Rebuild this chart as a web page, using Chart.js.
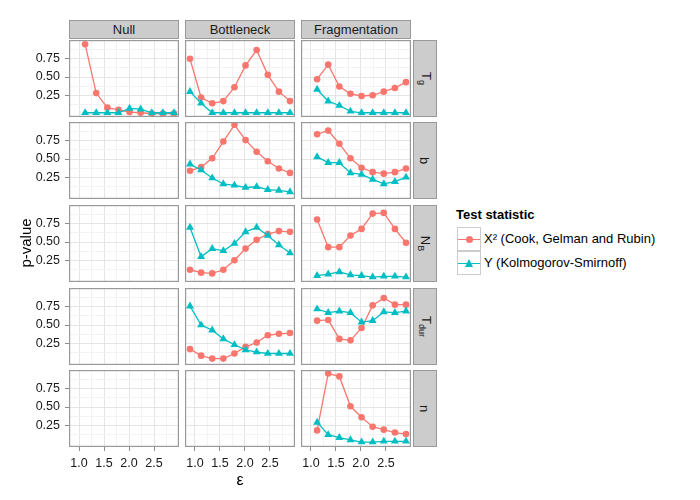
<!DOCTYPE html>
<html>
<head>
<meta charset="utf-8">
<script src="https://cdn.jsdelivr.net/npm/chart.js@4.4.1/dist/chart.umd.min.js"></script>
<style>
body { margin: 0; background: #fff; font-family: 'Liberation Sans', Arial, sans-serif; }
#wrap { position: relative; width: 700px; height: 500px; overflow: hidden; }
.cv { position: absolute; }
.strip { position: absolute; background: #ccc; border: 1px solid #999; box-sizing: border-box;
         color: #1a1a1a; font-size: 13px; display: flex; align-items: center; justify-content: center; }
.strip span { display: inline-block; white-space: nowrap; }
.strip.lado span { transform: rotate(90deg); }
sub { font-size: 9px; vertical-align: -3px; }
.titulo { position: absolute; color: #000; white-space: nowrap; }
.clave { position: absolute; width: 24px; height: 24px; border: 1px solid #ccc; box-sizing: border-box; background: #fff; }
.clave .linea { position: absolute; left: 0; right: 0; top: 10.5px; height: 1.4px; }
.clave .punto { position: absolute; left: 7.5px; top: 7.5px; width: 7px; height: 7px; border-radius: 50%; }
.clave .tri { position: absolute; left: 7px; top: 6.5px; width: 0; height: 0;
              border-left: 4.5px solid transparent; border-right: 4.5px solid transparent; border-bottom: 8px solid; }
.etiqueta { position: absolute; font-size: 13px; color: #000; white-space: nowrap; line-height: 16px; }
</style>
</head>
<body>
<div id="wrap"></div>
<script>
// valores de epsilon (eje x)
var eps10 = [0.9, 1.122, 1.344, 1.567, 1.789, 2.011, 2.233, 2.456, 2.678, 2.9];
var eps9 = [1.122, 1.344, 1.567, 1.789, 2.011, 2.233, 2.456, 2.678, 2.9];

var escenarios = ['Null', 'Bottleneck', 'Fragmentation'];
var parametros = ['T<sub>g</sub>', 'b', 'N<sub>B</sub>', 'T<sub>dur</sub>', 'n'];
var estadisticos = ['X² (Cook, Gelman and Rubin)', 'Y (Kolmogorov-Smirnoff)'];
var colores = ['#F8766D', '#00BFC4'];

var xTicks = [1.0, 1.5, 2.0, 2.5];
var xGrid = [1.0, 1.25, 1.5, 1.75, 2.0, 2.25, 2.5, 2.75];
var yTicks = [0.25, 0.5, 0.75];
var yGrid = [0.125, 0.25, 0.375, 0.5, 0.625, 0.75, 0.875];

// T_g
var nullTgChi = [0.95, 0.28, 0.08, 0.05, 0.02, 0.01, 0.00, 0.00, 0.00];
var nullTgKs  = [0.01, 0.01, 0.01, 0.01, 0.07, 0.06, 0.01, 0.01, 0.01];
var botTgChi  = [0.75, 0.22, 0.14, 0.17, 0.36, 0.66, 0.87, 0.53, 0.30, 0.17];
var botTgKs   = [0.30, 0.14, 0.01, 0.01, 0.01, 0.01, 0.01, 0.01, 0.01, 0.01];
var fragTgChi = [0.47, 0.67, 0.37, 0.27, 0.24, 0.25, 0.30, 0.35, 0.43];
var fragTgKs  = [0.33, 0.17, 0.11, 0.03, 0.01, 0.01, 0.01, 0.01, 0.01];
// b
var botBChi   = [0.34, 0.39, 0.51, 0.74, 0.97, 0.76, 0.60, 0.47, 0.37, 0.31];
var botBKs    = [0.43, 0.35, 0.24, 0.16, 0.14, 0.11, 0.12, 0.08, 0.07, 0.05];
var fragBChi  = [0.84, 0.89, 0.71, 0.51, 0.38, 0.32, 0.30, 0.32, 0.37];
var fragBKs   = [0.53, 0.45, 0.45, 0.31, 0.29, 0.22, 0.16, 0.19, 0.25];
// N_B
var botNbChi  = [0.12, 0.08, 0.07, 0.12, 0.25, 0.41, 0.53, 0.61, 0.65, 0.64];
var botNbKs   = [0.70, 0.30, 0.41, 0.38, 0.48, 0.64, 0.70, 0.59, 0.46, 0.35];
var fragNbChi = [0.81, 0.43, 0.43, 0.59, 0.68, 0.89, 0.90, 0.68, 0.49];
var fragNbKs  = [0.04, 0.06, 0.09, 0.05, 0.04, 0.02, 0.03, 0.03, 0.02];
// T_dur
var botTdChi  = [0.17, 0.08, 0.04, 0.04, 0.11, 0.20, 0.26, 0.36, 0.38, 0.39];
var botTdKs   = [0.76, 0.50, 0.43, 0.31, 0.23, 0.16, 0.13, 0.11, 0.11, 0.11];
var fragTdChi = [0.56, 0.57, 0.31, 0.29, 0.46, 0.77, 0.87, 0.78, 0.78];
var fragTdKs  = [0.72, 0.67, 0.69, 0.67, 0.54, 0.56, 0.68, 0.67, 0.69];
// n
var fragNChi  = [0.18, 0.96, 0.92, 0.51, 0.36, 0.23, 0.19, 0.15, 0.13];
var fragNKs   = [0.29, 0.12, 0.08, 0.05, 0.02, 0.02, 0.03, 0.03, 0.03];

// filas = parametros, columnas = escenarios
var paneles = [
    [{x: eps9, chi: nullTgChi, ks: nullTgKs}, {x: eps10, chi: botTgChi, ks: botTgKs}, {x: eps9, chi: fragTgChi, ks: fragTgKs}],
    [null, {x: eps10, chi: botBChi, ks: botBKs}, {x: eps9, chi: fragBChi, ks: fragBKs}],
    [null, {x: eps10, chi: botNbChi, ks: botNbKs}, {x: eps9, chi: fragNbChi, ks: fragNbKs}],
    [null, {x: eps10, chi: botTdChi, ks: botTdKs}, {x: eps9, chi: fragTdChi, ks: fragTdKs}],
    [null, null, {x: eps9, chi: fragNChi, ks: fragNKs}]
];

var colLeft = [69, 185, 301];
var rowTop = [40, 122, 205, 288, 370];
var panelW = 110, panelH = 77;
var ejeY = 49, ejeX = 24;
var fuente = "'Liberation Sans', Arial, sans-serif";

var wrap = document.getElementById('wrap');

var bordePanel = {
    id: 'bordePanel',
    afterDraw: function(chart) {
        var a = chart.chartArea, ctx = chart.ctx;
        ctx.save();
        ctx.strokeStyle = '#999';
        ctx.lineWidth = 1.2;
        ctx.strokeRect(a.left + 0.6, a.top + 0.6, a.right - a.left - 1.2, a.bottom - a.top - 1.2);
        ctx.restore();
    }
};

function serie(xs, ys, i) {
    return {
        label: estadisticos[i],
        data: xs.map(function(x, k) { return {x: x, y: ys[k]}; }),
        borderColor: colores[i],
        backgroundColor: colores[i],
        borderWidth: 1.3,
        pointStyle: i == 0 ? 'circle' : 'triangle',
        pointRadius: i == 0 ? 3.3 : 4.6,
        pointBorderWidth: 0,
        clip: false,
        order: i == 0 ? 1 : 0
    };
}

function graficarPanel(fila, col) {
    var izq = col == 0, abajo = fila == rowTop.length - 1;
    var datos = paneles[fila][col];
    var ancho = panelW + (izq ? ejeY : 0);
    var alto = panelH + (abajo ? ejeX : 0);

    var cv = document.createElement('canvas');
    cv.className = 'cv';
    cv.width = ancho; cv.height = alto;
    cv.style.width = ancho + 'px'; cv.style.height = alto + 'px';
    cv.style.left = (colLeft[col] - (izq ? ejeY : 0)) + 'px';
    cv.style.top = rowTop[fila] + 'px';
    wrap.appendChild(cv);

    var datasets = datos ? [serie(datos.x, datos.chi, 0), serie(datos.x, datos.ks, 1)] : [];

    new Chart(cv.getContext('2d'), {
        type: 'line',
        data: {datasets: datasets},
        options: {
            responsive: false,
            animation: false,
            events: [],
            layout: {padding: 0, autoPadding: false},
            plugins: {legend: {display: false}, tooltip: {enabled: false}},
            scales: {
                x: {
                    type: 'linear', min: 0.8, max: 3.0,
                    afterBuildTicks: function(ax) { ax.ticks = xGrid.map(function(v) { return {value: v}; }); },
                    afterFit: function(ax) {
                        ax.height = abajo ? ejeX : 0;
                        ax.paddingLeft = 0; ax.paddingRight = 0;
                    },
                    ticks: {
                        display: abajo, autoSkip: false, maxRotation: 0, padding: 5,
                        color: '#1a1a1a', font: {family: fuente, size: 12.5},
                        callback: function(v) { return xTicks.indexOf(v) >= 0 ? v.toFixed(1) : ''; }
                    },
                    grid: {
                        drawTicks: abajo, tickLength: 4,
                        color: function(c) { return c.tick && xTicks.indexOf(c.tick.value) >= 0 ? '#E2E2E2' : '#F3F3F3'; },
                        lineWidth: function(c) { return c.tick && xTicks.indexOf(c.tick.value) >= 0 ? 0.9 : 1; },
                        tickColor: function(c) { return c.tick && xTicks.indexOf(c.tick.value) >= 0 ? '#7f7f7f' : 'rgba(0,0,0,0)'; }
                    },
                    border: {display: false}
                },
                y: {
                    type: 'linear', min: -0.048, max: 1.008,
                    afterBuildTicks: function(ax) { ax.ticks = yGrid.map(function(v) { return {value: v}; }); },
                    afterFit: function(ax) {
                        ax.width = izq ? ejeY : 0;
                        ax.paddingTop = 0; ax.paddingBottom = 0;
                    },
                    ticks: {
                        display: izq, autoSkip: false, padding: 5,
                        color: '#1a1a1a', font: {family: fuente, size: 12.5},
                        callback: function(v) { return yTicks.indexOf(v) >= 0 ? v.toFixed(2) : ''; }
                    },
                    grid: {
                        drawTicks: izq, tickLength: 4,
                        color: function(c) { return c.tick && yTicks.indexOf(c.tick.value) >= 0 ? '#E2E2E2' : '#F3F3F3'; },
                        lineWidth: function(c) { return c.tick && yTicks.indexOf(c.tick.value) >= 0 ? 0.9 : 1; },
                        tickColor: function(c) { return c.tick && yTicks.indexOf(c.tick.value) >= 0 ? '#7f7f7f' : 'rgba(0,0,0,0)'; }
                    },
                    border: {display: false}
                }
            }
        },
        plugins: [bordePanel]
    });
}

function agregarDiv(clase, html, estilo) {
    var d = document.createElement('div');
    d.className = clase;
    d.innerHTML = html;
    for (var k in estilo) d.style[k] = estilo[k];
    wrap.appendChild(d);
    return d;
}

// tiras superiores (escenarios)
escenarios.forEach(function(nombre, c) {
    agregarDiv('strip', '<span>' + nombre + '</span>',
        {left: colLeft[c] + 'px', top: '20px', width: panelW + 'px', height: '19px'});
});
// tiras laterales (parametros)
parametros.forEach(function(nombre, f) {
    agregarDiv('strip lado', '<span>' + nombre + '</span>',
        {left: (colLeft[2] + panelW + 2) + 'px', top: rowTop[f] + 'px', width: '24px', height: panelH + 'px'});
});

for (var f = 0; f < rowTop.length; f++) {
    for (var c = 0; c < escenarios.length; c++) {
        graficarPanel(f, c);
    }
}

// titulos de los ejes
agregarDiv('titulo', 'p-value', {left: '-4px', top: '234px', width: '60px', textAlign: 'center',
    fontSize: '15px', lineHeight: '18px', transform: 'rotate(-90deg)'});
agregarDiv('titulo', 'ε', {left: '220px', top: '470px', width: '40px', textAlign: 'center',
    fontSize: '16px', lineHeight: '20px'});

// leyenda
agregarDiv('titulo', 'Test statistic', {left: '456px', top: '207px', fontSize: '13px', fontWeight: 'bold', lineHeight: '16px'});
estadisticos.forEach(function(txt, i) {
    var top = 227 + i * 24;
    var marca = i == 0 ? '<div class="punto" style="background:' + colores[i] + '"></div>'
                       : '<div class="tri" style="border-bottom-color:' + colores[i] + '"></div>';
    agregarDiv('clave', '<div class="linea" style="background:' + colores[i] + '"></div>' + marca,
        {left: '457px', top: top + 'px'});
    agregarDiv('etiqueta', txt, {left: '484px', top: (top + 4) + 'px'});
});
</script>
</body>
</html>
